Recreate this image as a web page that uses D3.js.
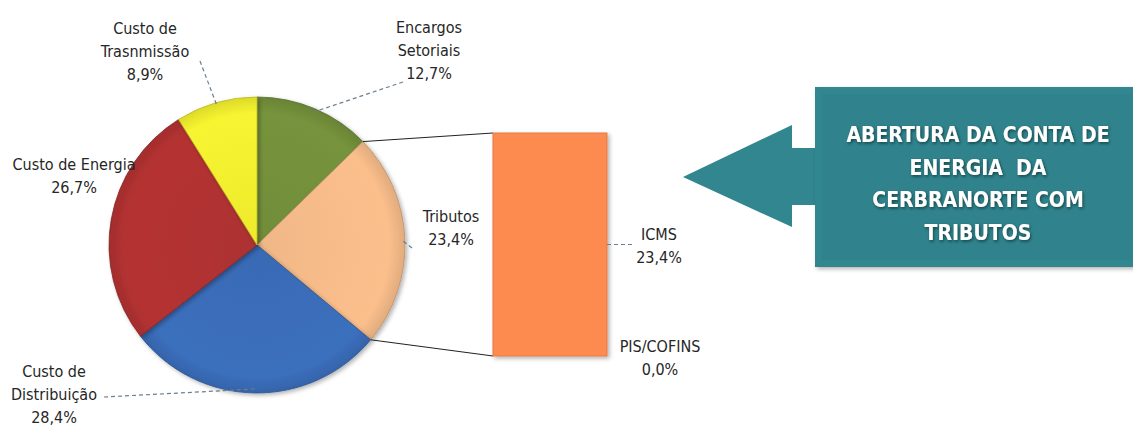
<!DOCTYPE html>
<html>
<head>
<meta charset="utf-8">
<script src="https://cdn.jsdelivr.net/npm/d3@7"></script>
<style>
  body { margin: 0; background: #fff; }
  svg text { font-family: "DejaVu Sans Condensed", "Liberation Sans", sans-serif; }
</style>
</head>
<body>
<div id="chart"></div>
<script>
// pie slices (clockwise from 12 o'clock)
const sliceNames = [["Encargos", "Setoriais"], ["Tributos"], ["Custo de", "Distribuição"], ["Custo de Energia"], ["Custo de", "Trasnmissão"]];
const sliceValues = [12.7, 23.4, 28.4, 26.7, 8.9];
const sliceColors = ["#76933c", "#fbbf8c", "#3b6fbd", "#b53232", "#f7f430"];

// bar of pie (breakdown of Tributos)
const barNames = ["PIS/COFINS", "ICMS"];
const barValues = [0.0, 23.4];

const calloutLines = ["ABERTURA DA CONTA DE", "ENERGIA  DA", "CERBRANORTE COM", "TRIBUTOS"];

const fmt = v => d3.format(".1f")(v).replace(".", ",") + "%";

const W = 1133, H = 426;
const svg = d3.select("#chart").append("svg").attr("width", W).attr("height", H);
const defs = svg.append("defs");

// slight shading on slices
sliceColors.forEach((c, i) => {
  const g = defs.append("radialGradient").attr("id", "sg" + i)
    .attr("gradientUnits", "userSpaceOnUse").attr("cx", 0).attr("cy", 0).attr("r", 150);
  g.append("stop").attr("offset", "0%").attr("stop-color", d3.color(c).darker(0.12));
  g.append("stop").attr("offset", "88%").attr("stop-color", c);
  g.append("stop").attr("offset", "100%").attr("stop-color", d3.color(c).darker(0.35));
});
const sh = defs.append("filter").attr("id", "tshadow").attr("x", "-10%").attr("y", "-30%").attr("width", "120%").attr("height", "160%");
sh.append("feDropShadow").attr("dx", 1).attr("dy", 1.5).attr("stdDeviation", 1.5).attr("flood-color", "#0b3438").attr("flood-opacity", 0.8);
const bsh = defs.append("filter").attr("id", "bshadow").attr("x", "-10%").attr("y", "-10%").attr("width", "130%").attr("height", "130%");
bsh.append("feDropShadow").attr("dx", 2).attr("dy", 2).attr("stdDeviation", 2).attr("flood-color", "#000").attr("flood-opacity", 0.3);

// ---- pie ----
const cx = 257, cy = 245, R = 148;
const pie = d3.pie().sort(null).value(d => d)(sliceValues);
const arc = d3.arc().innerRadius(0).outerRadius(R);
const onArc = (a, r) => [cx + r * Math.sin(a), cy - r * Math.cos(a)];

const pg = svg.append("g").attr("transform", `translate(${cx},${cy})`);
pg.selectAll("path").data(pie).enter().append("path")
  .attr("d", arc)
  .attr("fill", (d, i) => `url(#sg${i})`)
  .attr("stroke", (d, i) => d3.color(sliceColors[i]).darker(0.8))
  .attr("stroke-width", 0.8)
  .attr("filter", "url(#bshadow)");

// ---- bar of pie ----
const bar = { x0: 493, x1: 607, y0: 133, y1: 356 };
const yBar = d3.scaleLinear().domain([0, d3.sum(barValues)]).range([bar.y1, bar.y0]);
const stacked = [];
let acc = 0;
barValues.forEach((v, i) => { stacked.push({ name: barNames[i], v, lo: acc, hi: acc + v }); acc += v; });

// connector lines from the Tributos slice edges to the bar
const tr = pie[1];
const pA = onArc(tr.startAngle, R), pB = onArc(tr.endAngle, R);
svg.append("line").attr("x1", pA[0]).attr("y1", pA[1]).attr("x2", bar.x0).attr("y2", yBar(acc))
  .attr("stroke", "#222").attr("stroke-width", 1);
svg.append("line").attr("x1", pB[0]).attr("y1", pB[1]).attr("x2", bar.x0).attr("y2", yBar(0))
  .attr("stroke", "#222").attr("stroke-width", 1);

svg.append("g").selectAll("rect").data(stacked).enter().append("rect")
  .attr("x", bar.x0).attr("width", bar.x1 - bar.x0)
  .attr("y", d => yBar(d.hi)).attr("height", d => yBar(d.lo) - yBar(d.hi))
  .attr("fill", "#fd8a4f").attr("stroke", "#e67a40").attr("stroke-width", 1)
  .attr("filter", "url(#bshadow)");

// ---- labels ----
const lab = svg.append("g").attr("font-size", 16).attr("fill", "#262626").attr("text-anchor", "middle");
function block(x, yBase, lines) {
  const t = lab.append("text");
  lines.forEach((l, k) => t.append("tspan").attr("x", x).attr("y", yBase + k * 23).text(l));
}
const dash = (x1, y1, x2, y2) => svg.append("line").attr("x1", x1).attr("y1", y1).attr("x2", x2).attr("y2", y2)
  .attr("stroke", "#6c7f90").attr("stroke-width", 1.2).attr("stroke-dasharray", "4,3");

const sliceLabelPos = [[429, 33], [451, 222], [54, 377], [74, 170], [145, 34]];
const leaderEnds = [[403, 82], [412, 248], [104, 397], null, [200, 61]];
pie.forEach((p, i) => {
  const [lx, ly] = sliceLabelPos[i];
  block(lx, ly, sliceNames[i].concat([fmt(sliceValues[i])]));
  if (leaderEnds[i]) {
    const m = onArc((p.startAngle + p.endAngle) / 2, R - 4);
    dash(leaderEnds[i][0], leaderEnds[i][1], m[0], m[1]);
  }
});

// bar labels
const icms = stacked[1], pis = stacked[0];
const icmsY = yBar((icms.lo + icms.hi) / 2);
dash(bar.x1, icmsY, 632, icmsY);
block(659, 240, [icms.name, fmt(icms.v)]);
block(660, 352, [pis.name, fmt(pis.v)]);

// ---- callout ----
const teal = "#31868f";
svg.append("path")
  .attr("d", "M683,177 L792,125 L792,148 L818,148 L818,205 L792,205 L792,227 Z")
  .attr("fill", teal);
svg.append("rect").attr("x", 815).attr("y", 87).attr("width", 330).attr("height", 180)
  .attr("fill", teal).attr("filter", "url(#bshadow)");
svg.append("rect").attr("x", 822).attr("y", 94).attr("width", 320).attr("height", 166)
  .attr("fill", "#2e8089").attr("opacity", 0.5);

const ct = svg.append("text").attr("text-anchor", "middle").attr("fill", "#fff")
  .attr("font-weight", "bold").attr("font-size", 21).attr("filter", "url(#tshadow)");
calloutLines.forEach((l, k) => ct.append("tspan").attr("x", 978).attr("y", 142 + k * 32.5)
  .attr("xml:space", "preserve").style("white-space", "pre").text(l));
</script>
</body>
</html>
